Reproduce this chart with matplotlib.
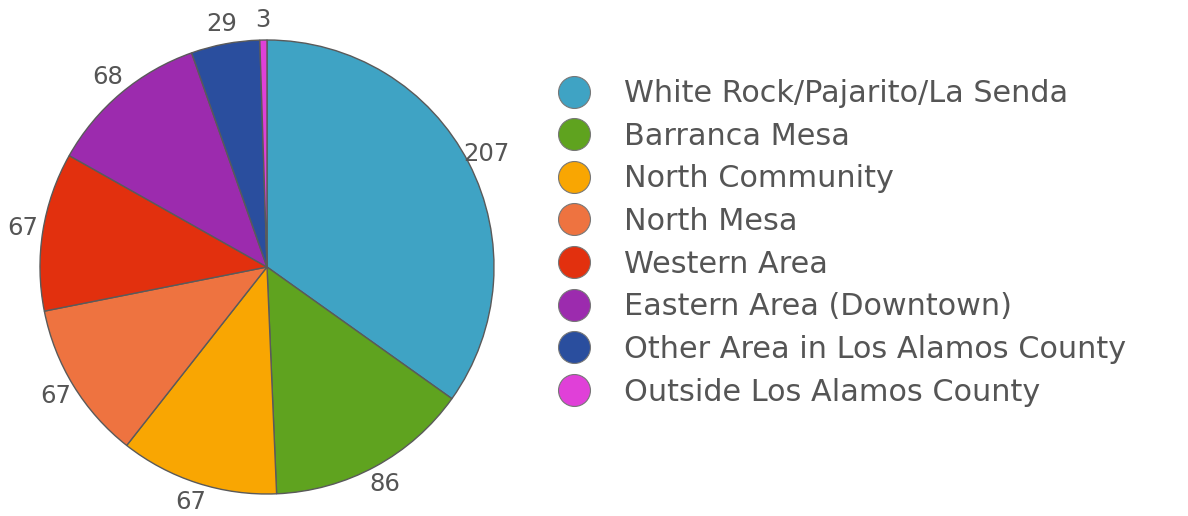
import matplotlib
matplotlib.use("Agg")
import matplotlib.pyplot as plt
from matplotlib.lines import Line2D

areas = ["White Rock/Pajarito/La Senda", "Barranca Mesa", "North Community",
         "North Mesa", "Western Area", "Eastern Area (Downtown)",
         "Other Area in Los Alamos County", "Outside Los Alamos County"]
counts = [207, 86, 67, 67, 67, 68, 29, 3]
colors = ["#3fa3c4", "#5fa31f", "#f9a602", "#ee7340", "#e2300e",
          "#9c2bae", "#2a4e9e", "#e040d8"]

plt.rcParams["font.family"] = ["DejaVu Sans"]
text_grey = "#555555"

fig = plt.figure(figsize=(11.88, 5.16), dpi=100)
# square axes so the pie sits on the left like the original
ax = fig.add_axes([9 / 1188, -9 / 516, 516 / 1188, 1.0])
wedges, labels = ax.pie(counts, colors=colors, labels=[str(c) for c in counts],
                        startangle=90, counterclock=False, labeldistance=1.09,
                        wedgeprops=dict(edgecolor="#5a5a5a", linewidth=1.0),
                        textprops=dict(color=text_grey, fontsize=17.5))
for t in labels:
    t.set_ha("center")
    t.set_va("center")
lim = 258 / 227
ax.set_xlim(-lim, lim)
ax.set_ylim(-lim, lim)
ax.set_aspect("equal")

handles = [Line2D([], [], linestyle="none", marker="o", markersize=23,
                  markerfacecolor=c, markeredgecolor="#777777", markeredgewidth=0.8)
           for c in colors]
leg = fig.legend(handles, areas, loc="upper left", bbox_to_anchor=(541 / 1188, 1 - 64 / 516),
                 frameon=False, fontsize=21.8, labelspacing=0.45, handletextpad=1.03,
                 handlelength=1.2, borderpad=0)
for t in leg.get_texts():
    t.set_color(text_grey)

fig.savefig("out.png", dpi=100)
